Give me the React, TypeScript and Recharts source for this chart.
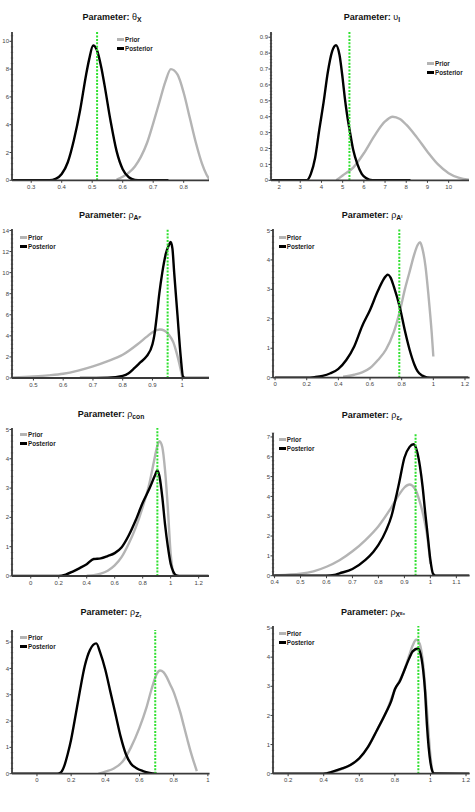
import React from 'react';
import { LineChart, Line, XAxis, YAxis, ReferenceLine } from 'recharts';

// ---------- data (x, density) ----------
const thetaXPrior = [[0.58,0.05],[0.6,0.25],[0.62,0.55],[0.64,1.0],[0.66,1.7],[0.68,2.7],[0.7,4.1],[0.72,5.6],[0.74,7.1],[0.758,8.0],[0.78,7.6],[0.8,6.3],[0.82,4.5],[0.84,2.7],[0.86,1.2],[0.875,0.4],[0.885,0.05]];
const thetaXPost = [[0.237,0],[0.36,0],[0.38,0.1],[0.4,0.45],[0.42,1.3],[0.44,2.9],[0.46,5.0],[0.48,7.6],[0.49,8.7],[0.503,9.7],[0.515,9.4],[0.53,8.1],[0.54,6.9],[0.56,4.3],[0.58,2.1],[0.6,0.8],[0.62,0.22],[0.64,0.03],[0.66,0],[0.75,0]];
const thetaXTrue = 0.516;

const upsPrior = [[4.7,0],[5.0,0.03],[5.5,0.08],[6.0,0.17],[6.5,0.28],[7.0,0.37],[7.36,0.4],[7.7,0.385],[8.0,0.35],[8.5,0.27],[9.0,0.18],[9.5,0.1],[10.0,0.045],[10.5,0.015],[10.96,0.003]];
const upsPost = [[1.62,0],[3.3,0],[3.5,0.04],[3.7,0.14],[3.9,0.32],[4.1,0.49],[4.3,0.68],[4.5,0.81],[4.69,0.85],[4.85,0.79],[5.0,0.64],[5.1,0.52],[5.2,0.42],[5.35,0.3],[5.5,0.19],[5.7,0.1],[5.9,0.04],[6.1,0.015],[6.4,0],[8.2,0]];
const upsTrue = 5.32;

const rhoAPPrior = [[0.43,0.05],[0.5,0.15],[0.55,0.25],[0.6,0.4],[0.65,0.7],[0.7,1.1],[0.75,1.6],[0.8,2.2],[0.85,3.2],[0.88,3.9],[0.9,4.35],[0.925,4.6],[0.94,4.5],[0.955,4.1],[0.97,3.4],[0.98,2.5],[0.99,1.4],[1.0,0.1]];
const rhoAPPost = [[0.656,0],[0.75,0.03],[0.8,0.2],[0.82,0.45],[0.84,0.95],[0.86,1.5],[0.88,2.05],[0.9,3.2],[0.906,4.0],[0.915,6.0],[0.923,8.0],[0.933,10.0],[0.945,11.8],[0.955,12.6],[0.961,12.9],[0.967,12.3],[0.973,10.0],[0.984,6.0],[0.995,2.0],[1.003,0.1],[1.01,0],[1.09,0]];
const rhoAPTrue = 0.951;

const rhoAIPrior = [[0.43,0.03],[0.5,0.1],[0.55,0.18],[0.6,0.33],[0.65,0.6],[0.7,0.95],[0.75,1.55],[0.79,2.3],[0.82,3.0],[0.85,3.6],[0.88,4.2],[0.9,4.5],[0.916,4.6],[0.93,4.4],[0.95,3.8],[0.97,2.75],[0.99,1.5],[1.0,0.72]];
const rhoAIPost = [[0,0],[0.2,0],[0.25,0.02],[0.3,0.06],[0.35,0.15],[0.4,0.3],[0.45,0.6],[0.5,1.06],[0.55,1.75],[0.6,2.3],[0.65,2.95],[0.7,3.45],[0.713,3.5],[0.73,3.4],[0.75,3.1],[0.79,2.35],[0.82,1.6],[0.85,0.95],[0.88,0.45],[0.9,0.22],[0.93,0.07],[0.96,0.01],[1.0,0],[1.22,0]];
const rhoAITrue = 0.785;

const rhoConPrior = [[0.4,0.01],[0.45,0.03],[0.5,0.08],[0.55,0.18],[0.6,0.36],[0.65,0.65],[0.7,1.1],[0.75,1.65],[0.8,2.35],[0.85,3.2],[0.88,3.9],[0.9,4.35],[0.92,4.6],[0.94,4.4],[0.96,3.6],[0.98,2.3],[1.0,0.75],[1.02,0.05]];
const rhoConPost = [[-0.13,0],[0.2,0],[0.25,0.05],[0.3,0.15],[0.35,0.27],[0.4,0.4],[0.45,0.58],[0.5,0.6],[0.55,0.68],[0.6,0.78],[0.65,0.98],[0.7,1.38],[0.75,1.9],[0.8,2.5],[0.85,3.0],[0.885,3.4],[0.905,3.6],[0.92,3.4],[0.94,2.7],[0.96,1.75],[0.98,1.0],[1.0,0.42],[1.02,0.14],[1.04,0.02],[1.06,0],[1.27,0]];
const rhoConTrue = 0.905;

const rhoEPPrior = [[0.4,0.02],[0.45,0.05],[0.5,0.1],[0.55,0.22],[0.6,0.45],[0.65,0.78],[0.7,1.23],[0.75,1.8],[0.8,2.5],[0.85,3.45],[0.88,4.1],[0.9,4.45],[0.92,4.6],[0.94,4.4],[0.96,3.7],[0.98,2.6],[0.99,1.8],[1.0,0.6]];
const rhoEPPost = [[0.394,0],[0.6,0],[0.63,0.04],[0.65,0.12],[0.7,0.34],[0.75,0.8],[0.78,1.2],[0.8,1.55],[0.83,2.3],[0.85,3.0],[0.87,4.1],[0.88,4.7],[0.9,5.95],[0.92,6.5],[0.935,6.63],[0.95,6.2],[0.96,5.5],[0.97,4.5],[0.98,3.2],[0.99,2.0],[1.0,0.8],[1.01,0.1],[1.02,0],[1.15,0]];
const rhoEPTrue = 0.943;

const rhoZTPrior = [[0.36,0],[0.4,0.08],[0.45,0.2],[0.5,0.45],[0.55,1.0],[0.6,1.75],[0.64,2.5],[0.67,3.2],[0.7,3.78],[0.72,3.92],[0.74,3.86],[0.76,3.66],[0.78,3.38],[0.8,3.1],[0.82,2.72],[0.84,2.3],[0.86,1.8],[0.88,1.3],[0.9,0.82],[0.92,0.4],[0.935,0.1]];
const rhoZTPost = [[-0.146,0],[0.12,0],[0.14,0.05],[0.16,0.3],[0.18,0.75],[0.2,1.3],[0.22,2.0],[0.25,3.1],[0.28,4.1],[0.31,4.7],[0.347,4.95],[0.37,4.6],[0.4,3.95],[0.43,3.1],[0.46,2.25],[0.49,1.4],[0.52,0.75],[0.55,0.38],[0.58,0.22],[0.62,0.1],[0.66,0.03],[0.7,0]];
const rhoZTTrue = 0.692;

const rhoXEPrior = [[0.4,0],[0.45,0.06],[0.5,0.16],[0.55,0.3],[0.6,0.52],[0.65,0.92],[0.7,1.5],[0.75,2.1],[0.8,2.88],[0.85,3.5],[0.88,4.05],[0.9,4.4],[0.92,4.6],[0.94,4.45],[0.96,3.7],[0.98,2.2],[1.0,0.6],[1.01,0.1]];
const rhoXEPost = [[0.115,0],[0.4,0],[0.45,0.07],[0.5,0.17],[0.55,0.3],[0.6,0.53],[0.65,0.93],[0.7,1.5],[0.75,2.1],[0.78,2.5],[0.8,2.9],[0.83,3.2],[0.85,3.5],[0.88,3.95],[0.9,4.2],[0.93,4.3],[0.94,4.2],[0.95,3.95],[0.96,3.5],[0.97,2.8],[0.98,1.7],[0.99,0.9],[1.0,0.38],[1.01,0.1],[1.02,0.01],[1.22,0]];
const rhoXETrue = 0.932;

// tick labels
const ticksX1 = [0.3, 0.4, 0.5, 0.6, 0.7, 0.8];
const ticksY1 = [0, 2, 4, 6, 8, 10];
const ticksX2 = [2, 3, 4, 5, 6, 7, 8, 9, 10];
const ticksY2 = [0, 0.1, 0.2, 0.3, 0.4, 0.5, 0.6, 0.7, 0.8, 0.9];
const ticksX3 = [0.5, 0.6, 0.7, 0.8, 0.9, 1];
const ticksY3 = [0, 2, 4, 6, 8, 10, 12, 14];
const ticksX4 = [0, 0.2, 0.4, 0.6, 0.8, 1, 1.2];
const ticksY4 = [0, 1, 2, 3, 4, 5];
const ticksX5 = [0, 0.2, 0.4, 0.6, 0.8, 1, 1.2];
const ticksY5 = [0, 1, 2, 3, 4, 5];
const ticksX6 = [0.4, 0.5, 0.6, 0.7, 0.8, 0.9, 1, 1.1];
const ticksY6 = [0, 1, 2, 3, 4, 5, 6, 7];
const ticksX7 = [0, 0.2, 0.4, 0.6, 0.8, 1];
const ticksY7 = [0, 1, 2, 3, 4, 5];
const ticksX8 = [0.2, 0.4, 0.6, 0.8, 1, 1.2];
const ticksY8 = [0, 1, 2, 3, 4, 5];

const toPts = (a: number[][]) => a.map(([x, y]) => ({ x, y }));
const fmt = (v: number) => String(Number(v.toFixed(4)));

const FONT = "'Liberation Sans', Arial, sans-serif";

type PanelDef = {
  title: React.ReactNode;
  prior: number[][];
  post: number[][];
  truth: number;
  xTicks: number[];
  yTicks: number[];
  xDom: [number, number];
  yDom: [number, number];
  pl: number; pr: number; pt: number; pb: number;
  titleX: number; titleY: number;
  legX: number; legY: number;
};

const Sub = ({ children, small }: { children: React.ReactNode; small?: boolean }) => (
  <span style={{ fontSize: small ? '0.55em' : '0.75em', position: 'relative', top: '0.35em' }}>{children}</span>
);
const Sup = ({ children }: { children: React.ReactNode }) => (
  <span style={{ fontSize: '0.6em', position: 'relative', top: '-0.45em' }}>{children}</span>
);
const G = ({ children }: { children: React.ReactNode }) => (
  <span style={{ fontWeight: 'normal' }}>{children}</span>
);

const panels: PanelDef[] = [
  { title: <>Parameter: <G>θ</G><Sub>X</Sub></>, prior: thetaXPrior, post: thetaXPost, truth: thetaXTrue, xTicks: ticksX1, yTicks: ticksY1,
    xDom: [0.237, 0.883], yDom: [0, 10.67], pl: 12.3, pr: 209.3, pt: 31.7, pb: 180, titleX: 112, titleY: 12, legX: 117, legY: 39 },
  { title: <>Parameter: <G>υ</G><Sub>I</Sub></>, prior: upsPrior, post: upsPost, truth: upsTrue, xTicks: ticksX2, yTicks: ticksY2,
    xDom: [1.62, 10.96], yDom: [0, 0.933], pl: 271.3, pr: 469.3, pt: 31.7, pb: 180, titleX: 372, titleY: 12, legX: 427, legY: 63 },
  { title: <>Parameter: <G>ρ</G><Sub>A<Sup>P</Sup></Sub></>, prior: rhoAPPrior, post: rhoAPPost, truth: rhoAPTrue, xTicks: ticksX3, yTicks: ticksY3,
    xDom: [0.428, 1.09], yDom: [0, 14.14], pl: 12.3, pr: 209.3, pt: 229.3, pb: 378.3, titleX: 110, titleY: 210, legX: 20, legY: 237 },
  { title: <>Parameter: <G>ρ</G><Sub>A<Sup>I</Sup></Sub></>, prior: rhoAIPrior, post: rhoAIPost, truth: rhoAITrue, xTicks: ticksX4, yTicks: ticksY4,
    xDom: [-0.013, 1.229], yDom: [0, 5.05], pl: 272.7, pr: 469.3, pt: 229.3, pb: 378, titleX: 372, titleY: 209.5, legX: 278.7, legY: 237 },
  { title: <>Parameter: <G>ρ</G><Sub>con</Sub></>, prior: rhoConPrior, post: rhoConPost, truth: rhoConTrue, xTicks: ticksX5, yTicks: ticksY5,
    xDom: [-0.134, 1.274], yDom: [0, 5.05], pl: 12.3, pr: 209.3, pt: 427.7, pb: 575.7, titleX: 111, titleY: 408.5, legX: 20, legY: 434 },
  { title: <>Parameter: <G>ρ</G><Sub>ε<Sub small>P</Sub></Sub></>, prior: rhoEPPrior, post: rhoEPPost, truth: rhoEPTrue, xTicks: ticksX6, yTicks: ticksY6,
    xDom: [0.394, 1.151], yDom: [0, 7.2], pl: 272.7, pr: 469.3, pt: 433.3, pb: 576, titleX: 372, titleY: 409.5, legX: 278.7, legY: 439 },
  { title: <>Parameter: <G>ρ</G><Sub>Z<Sub small>T</Sub></Sub></>, prior: rhoZTPrior, post: rhoZTPost, truth: rhoZTTrue, xTicks: ticksX7, yTicks: ticksY7,
    xDom: [-0.146, 1.01], yDom: [0, 5.46], pl: 11.7, pr: 209.3, pt: 630, pb: 773.7, titleX: 111, titleY: 606.5, legX: 20, legY: 637 },
  { title: <>Parameter: <G>ρ</G><Sub>X<Sup>Ex</Sup></Sub></>, prior: rhoXEPrior, post: rhoXEPost, truth: rhoXETrue, xTicks: ticksX8, yTicks: ticksY8,
    xDom: [0.115, 1.22], yDom: [0, 5.07], pl: 272.7, pr: 469.3, pt: 626, pb: 773.7, titleX: 373, titleY: 606.5, legX: 278.7, legY: 633 },
];

const AXIS = '#3a3a3a';
const TICKTXT = '#444';
const PRIOR = '#b4b4b4';
const POST = '#000000';
const GREEN = '#2fe02f';

const YW = 24;
const XH = 16;
const MT = 2;
const MR = 2;

const makeYTick = (majors: number[]) => (props: any) => {
  const { x, y, payload } = props;
  const v = payload.value as number;
  const isMajor = majors.some((m) => Math.abs(m - v) < 1e-9);
  if (isMajor) {
    return (
      <g>
        <line x1={x - 2.5} x2={x} y1={y} y2={y} stroke={AXIS} strokeWidth={1} />
        <text x={x - 3} y={y} dy="0.35em" textAnchor="end" fontSize={6} fill={TICKTXT} fontFamily={FONT}>{fmt(v)}</text>
      </g>
    );
  }
  return <line x1={x - 1.2} x2={x + 1.2} y1={y} y2={y} stroke={AXIS} strokeWidth={0.6} />;
};

const Panel = ({ p }: { p: PanelDef }) => {
  const w = p.pr - p.pl + YW + MR;
  const h = p.pb - p.pt + MT + XH;
  const step = p.yTicks[1] - p.yTicks[0];
  const allY: number[] = [];
  for (let i = 0; i < p.yTicks.length; i++) {
    for (let k = 0; k < 5; k++) {
      const v = p.yTicks[i] + (k * step) / 5;
      if (v <= p.yDom[1] + 1e-9) allY.push(Number(v.toFixed(6)));
    }
  }
  return (
    <>
      <div style={{ position: 'absolute', left: p.pl - YW, top: p.pt - MT }}>
        <LineChart width={w} height={h} margin={{ top: MT, right: MR, left: 0, bottom: 0 }}>
          <XAxis type="number" dataKey="x" domain={p.xDom} allowDataOverflow ticks={p.xTicks} interval={0}
            tickFormatter={fmt} height={XH} stroke={AXIS} strokeWidth={1.8} tickSize={2.5} tickMargin={2}
            tick={{ fontSize: 6, fill: TICKTXT, fontFamily: FONT }} tickLine={{ stroke: AXIS, strokeWidth: 1 }} />
          <YAxis type="number" dataKey="y" domain={p.yDom} allowDataOverflow ticks={allY} interval={0}
            width={YW} stroke={AXIS} strokeWidth={1.8} tickSize={0} tickMargin={0} tickLine={false}
            tick={makeYTick(p.yTicks)} />
          <Line data={toPts(p.prior)} dataKey="y" type="monotone" stroke={PRIOR} strokeWidth={2.4} dot={false} isAnimationActive={false} />
          <Line data={toPts(p.post)} dataKey="y" type="monotone" stroke={POST} strokeWidth={2.4} dot={false} isAnimationActive={false} />
          <ReferenceLine x={p.truth} stroke={GREEN} strokeWidth={2} strokeDasharray="2 1.4" />
        </LineChart>
      </div>
      <div style={{ position: 'absolute', left: p.titleX, top: p.titleY, transform: 'translateX(-50%)', whiteSpace: 'nowrap',
        fontFamily: FONT, fontWeight: 'bold', fontSize: 9, lineHeight: '10px', color: '#111' }}>
        {p.title}
      </div>
      <div style={{ position: 'absolute', left: p.legX, top: p.legY - 4, fontFamily: FONT, fontWeight: 'bold', fontSize: 6.3, lineHeight: '9px', color: '#222' }}>
        <div style={{ display: 'flex', alignItems: 'center' }}>
          <span style={{ display: 'inline-block', width: 7, height: 2.4, background: PRIOR, marginRight: 1 }} />Prior
        </div>
        <div style={{ display: 'flex', alignItems: 'center' }}>
          <span style={{ display: 'inline-block', width: 7, height: 2.4, background: POST, marginRight: 1 }} />Posterior
        </div>
      </div>
    </>
  );
};

export default function App() {
  return (
    <div style={{ position: 'absolute', left: 0, top: 0, width: 475, height: 812, background: '#fff' }}>
      {panels.map((p, i) => <Panel key={i} p={p} />)}
    </div>
  );
}
